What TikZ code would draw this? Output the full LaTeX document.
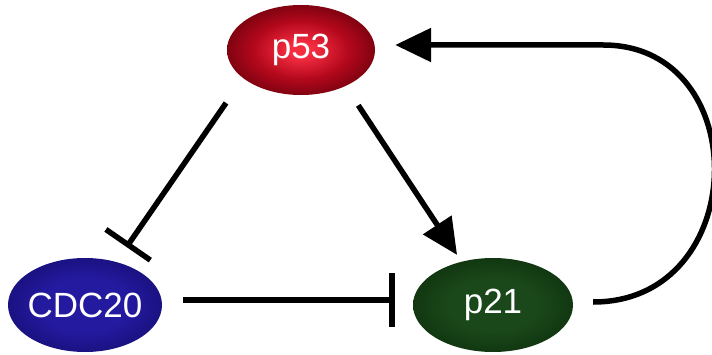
\documentclass[tikz,border=0pt]{standalone}
\usepackage{fontspec}
\setmainfont{Liberation Sans}
\usetikzlibrary{positioning, arrows.meta, shapes.geometric}
\definecolor{p53in}{RGB}{245,45,65}
\definecolor{p53mid}{RGB}{180,8,28}
\definecolor{p53out}{RGB}{100,0,10}
\definecolor{cdcin}{RGB}{36,26,160}
\definecolor{cdcout}{RGB}{18,10,105}
\definecolor{p21in}{RGB}{26,72,26}
\definecolor{p21out}{RGB}{10,42,10}
\pgfdeclareradialshading{redglow}{\pgfpoint{0bp}{0bp}}{color(0bp)=(p53in); color(4bp)=(p53in); color(16bp)=(p53mid); color(30bp)=(p53out); color(50bp)=(p53out)}
\pgfdeclareradialshading{blueglow}{\pgfpoint{0bp}{0bp}}{color(0bp)=(cdcin); color(14bp)=(cdcin); color(34bp)=(cdcout); color(50bp)=(cdcout)}
\pgfdeclareradialshading{greenglow}{\pgfpoint{0bp}{0bp}}{color(0bp)=(p21in); color(14bp)=(p21in); color(34bp)=(p21out); color(50bp)=(p21out)}
\tikzset{%
	link/.style = {line width = 5.5pt},
	act/.style = {-{Triangle[length = 36pt, width = 33pt]}},
	inh/.style = {-{Bar[width = 54pt]}},
	gene/.style = {name = #1, ellipse, shade, inner sep = 0pt, label = {[text = white, font = \fontsize{35}{40}\selectfont]center:#1}}
}

\begin{document}
\begin{tikzpicture}[x = 1pt, y = 1pt]
	\useasboundingbox (0,0) rectangle (712,354);
	\node [gene = {p53}, shading = redglow, minimum width = 148pt, minimum height = 90pt] at (301,304) {};
	\node [gene = {CDC20}, shading = blueglow, minimum width = 154pt, minimum height = 94pt] at (85,49) {};
	\node [gene = {p21}, shading = greenglow, minimum width = 160pt, minimum height = 94pt] at (493,49) {};
	\draw [link, inh, shorten <= 30pt, shorten >= 18pt] (p53.206) -- (CDC20.54);
	\draw [link, act, shorten <= 23pt, shorten >= 8pt] (p53.321) -- (p21.126);
	\draw [link, inh, shorten <= 21pt, shorten >= 18pt] ([yshift = 5pt]CDC20.east) -- ([yshift = 5pt]p21.west);
	% feedback loop back to p53
	\draw [link, act] ([xshift = 20pt, yshift = 3pt]p21.east) .. controls +(158,0) and +(152,0) .. ([xshift = 228pt, yshift = 5pt]p53.east) -- ([xshift = 20pt, yshift = 5pt]p53.east);
\end{tikzpicture}
\end{document}
